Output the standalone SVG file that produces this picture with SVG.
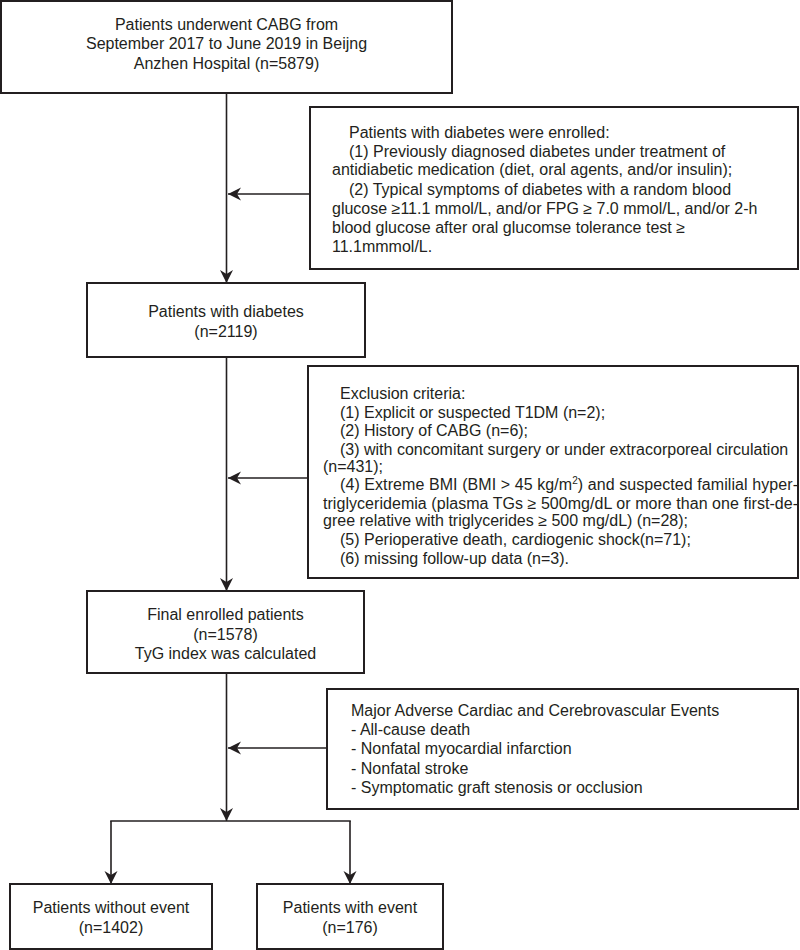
<svg xmlns="http://www.w3.org/2000/svg" width="800" height="950" viewBox="0 0 800 950">
<style>
.box{fill:#fff;stroke:#231f20;stroke-width:2}
.t{font-family:"Liberation Sans",Arial,sans-serif;font-size:16px;fill:#231f20}
.c{text-anchor:middle}
.ln{stroke:#231f20;stroke-width:1.6;fill:none}
</style>
<defs>
<marker id="ah" markerUnits="userSpaceOnUse" markerWidth="14" markerHeight="14" viewBox="0 0 14 14" refX="13" refY="7" orient="auto">
<path d="M0,0.5 L13,7 L0,13.5 L4,7 z" fill="#231f20"/>
</marker>
</defs>
<rect width="800" height="950" fill="#fff"/>
<g id="connectors">
<line class="ln" x1="226.5" y1="93" x2="226.5" y2="283" marker-end="url(#ah)"/>
<line class="ln" x1="310" y1="194" x2="228" y2="194" marker-end="url(#ah)"/>
<line class="ln" x1="226.5" y1="357" x2="226.5" y2="591" marker-end="url(#ah)"/>
<line class="ln" x1="308" y1="478" x2="228" y2="478" marker-end="url(#ah)"/>
<line class="ln" x1="226.5" y1="673" x2="226.5" y2="821" marker-end="url(#ah)"/>
<line class="ln" x1="327" y1="748" x2="228" y2="748" marker-end="url(#ah)"/>
<line class="ln" x1="110.2" y1="821" x2="350.8" y2="821"/>
<line class="ln" x1="111" y1="821" x2="111" y2="884" marker-end="url(#ah)"/>
<line class="ln" x1="350" y1="821" x2="350" y2="884" marker-end="url(#ah)"/>
</g>
<g id="n1">
<rect class="box" x="1" y="1" width="451" height="92"/>
<text class="t c" x="226.5" y="29.5">Patients underwent CABG from</text>
<text class="t c" x="226.5" y="49">September 2017 to June 2019 in Beijng</text>
<text class="t c" x="226.5" y="68.5">Anzhen Hospital (n=5879)</text>
</g>
<g id="n2">
<rect class="box" x="310" y="107" width="488" height="162"/>
<text class="t" x="349" y="137.5">Patients with diabetes were enrolled:</text>
<text class="t" x="349" y="156.5">(1) Previously diagnosed diabetes under treatment of</text>
<text class="t" x="332" y="175">antidiabetic medication (diet, oral agents, and/or insulin);</text>
<text class="t" x="349" y="194.5">(2) Typical symptoms of diabetes with a random blood</text>
<text class="t" x="332" y="213.5">glucose ≥11.1 mmol/L, and/or FPG ≥ 7.0 mmol/L, and/or 2-h</text>
<text class="t" x="332" y="232.5">blood glucose after oral glucomse tolerance test ≥</text>
<text class="t" x="332" y="251.5">11.1mmmol/L.</text>
</g>
<g id="n3">
<rect class="box" x="87" y="283" width="278" height="74"/>
<text class="t c" x="226" y="316.5">Patients with diabetes</text>
<text class="t c" x="226" y="336.5">(n=2119)</text>
</g>
<g id="n4">
<rect class="box" x="308" y="366" width="490" height="212"/>
<text class="t" x="340" y="398.5">Exclusion criteria:</text>
<text class="t" x="340" y="417.5">(1) Explicit or suspected T1DM (n=2);</text>
<text class="t" x="340" y="435.5">(2) History of CABG (n=6);</text>
<text class="t" x="340" y="454.5">(3) with concomitant surgery or under extracorporeal circulation</text>
<text class="t" x="323" y="471.5">(n=431);</text>
<text class="t" x="340" y="489.5" textLength="458" lengthAdjust="spacing">(4) Extreme BMI (BMI &gt; 45 kg/m<tspan font-size="10" dy="-6">2</tspan><tspan dy="6">) and suspected familial hyper-</tspan></text>
<text class="t" x="323" y="508.5" textLength="475" lengthAdjust="spacing">triglyceridemia (plasma TGs ≥ 500mg/dL or more than one first-de-</text>
<text class="t" x="323" y="525.5">gree relative with triglycerides ≥ 500 mg/dL) (n=28);</text>
<text class="t" x="340" y="544.5">(5) Perioperative death, cardiogenic shock(n=71);</text>
<text class="t" x="340" y="563.5">(6) missing follow-up data (n=3).</text>
</g>
<g id="n5">
<rect class="box" x="87" y="591" width="277" height="82"/>
<text class="t c" x="225.5" y="619.5">Final enrolled patients</text>
<text class="t c" x="225.5" y="639.5">(n=1578)</text>
<text class="t c" x="225.5" y="658.5">TyG index was calculated</text>
</g>
<g id="n6">
<rect class="box" x="327" y="689" width="471" height="120"/>
<text class="t" x="351" y="715.5">Major Adverse Cardiac and Cerebrovascular Events</text>
<text class="t" x="351" y="734.5">- All-cause death</text>
<text class="t" x="351" y="754">- Nonfatal myocardial infarction</text>
<text class="t" x="351" y="773.5">- Nonfatal stroke</text>
<text class="t" x="351" y="792.5">- Symptomatic graft stenosis or occlusion</text>
</g>
<g id="n7">
<rect class="box" x="10" y="884" width="202" height="65"/>
<text class="t c" x="111" y="912.5">Patients without event</text>
<text class="t c" x="111" y="932.5">(n=1402)</text>
</g>
<g id="n8">
<rect class="box" x="257" y="884" width="186" height="65"/>
<text class="t c" x="350" y="912.5">Patients with event</text>
<text class="t c" x="350" y="932.5">(n=176)</text>
</g>
</svg>
